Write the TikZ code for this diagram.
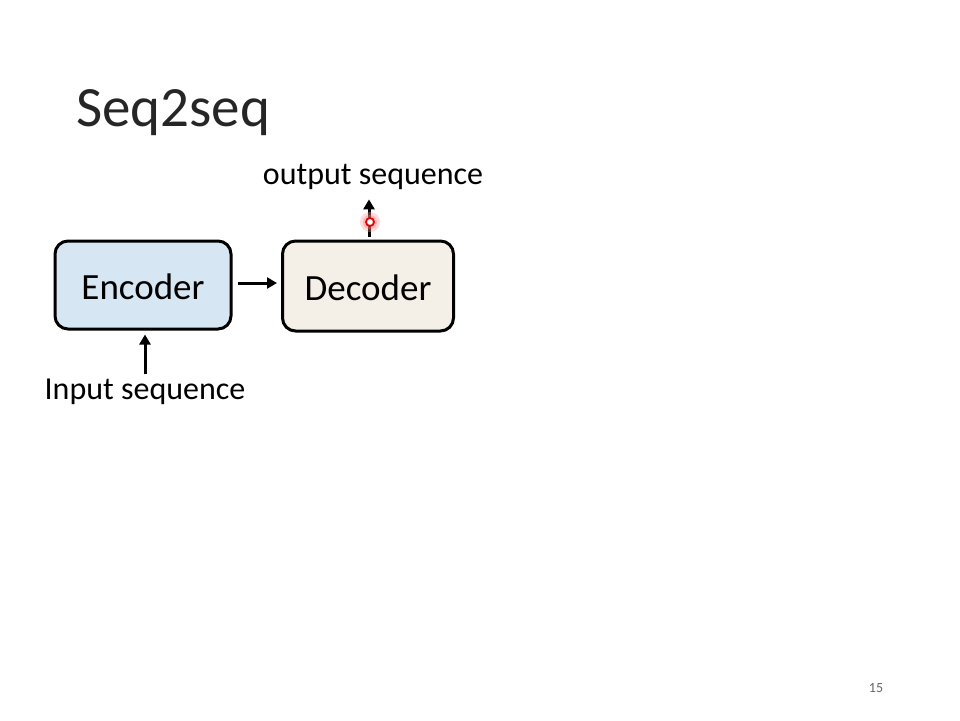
\documentclass[tikz,border=0pt]{standalone}
\usepackage{fontspec}
\setmainfont{Carlito}
\usetikzlibrary{arrows.meta}
\definecolor{encfill}{HTML}{D7E6F3}
\definecolor{decfill}{HTML}{F4EFE7}
\tikzset{
  blk/.style={draw=black, line width=3pt, rounded corners=13pt, inner sep=0pt,
              font=\fontsize{37}{40}\selectfont},
  lbl/.style={inner sep=0pt, font=\fontsize{32}{36}\selectfont},
  arr/.style={line width=3pt, -{Triangle[length=10pt,width=11pt]}}
}
\begin{document}
\begin{tikzpicture}[x=1pt,y=-1pt]
\useasboundingbox (0,0) rectangle (960,720);
\fill[white] (0,0) rectangle (960,720);
\node[inner sep=0pt, anchor=base west, font=\fontsize{57}{60}\selectfont, text=black!85] (title) at (76,126) {Seq2seq};
\node[blk, fill=encfill, minimum width=176pt, minimum height=88pt] (enc) at (143,285) {};
\node[inner sep=0pt, font=\fontsize{37}{40}\selectfont] (enctxt) at (143,287) {Encoder};
\node[blk, fill=decfill, minimum width=171pt, minimum height=90pt] (dec) at (368,286) {};
\node[inner sep=0pt, font=\fontsize{37}{40}\selectfont] (dectxt) at (368,288) {Decoder};
\node[lbl, anchor=base] (out) at (373,184) {output sequence};
\node[lbl, anchor=base] (inp) at (145,399) {Input sequence};
\draw[arr, shorten <=5pt, shorten >=4pt] (enc.east |- 0,283) -- (dec.west |- 0,283);
\draw[arr, shorten <=4pt, shorten >=4pt] (inp.north -| 145,0) -- (enc.south -| 145,0);
\draw[arr, shorten <=3pt, shorten >=10pt] (dec.north -| 369,0) -- (out.south -| 369,0);
\fill[red!40, opacity=0.35] (370,222) circle (10pt);
\fill[red!55, opacity=0.35] (370,222) circle (7pt);
\node[circle, draw=red!90!black, line width=1.8pt, fill=white, minimum size=8pt, inner sep=0pt] (dot) at (370,222) {};
\node[inner sep=0pt, anchor=base, font=\fontsize{14}{16}\selectfont, text=black!60] (pg) at (876,692) {15};
\end{tikzpicture}
\end{document}
